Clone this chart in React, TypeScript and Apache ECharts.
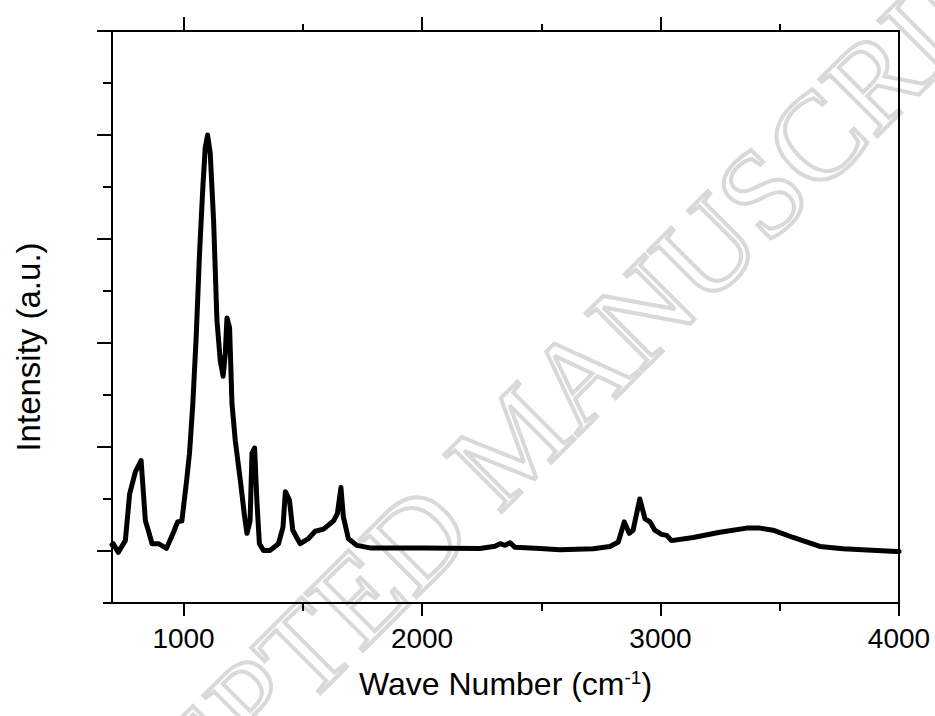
import React, { useEffect, useRef } from "react";
import * as echarts from "echarts";

const wavenumbers = [
  700, 705, 726, 756, 774, 798, 822, 840, 852, 868, 895, 928, 958, 975, 993,
  1014, 1017, 1025, 1039, 1053, 1067, 1081, 1091, 1101, 1112, 1126, 1133, 1140,
  1154, 1166, 1175, 1182, 1193, 1203, 1217, 1238, 1255, 1266, 1279, 1287, 1298,
  1308, 1318, 1335, 1363, 1398, 1417, 1427, 1444, 1458, 1489, 1524, 1552, 1587,
  1629, 1645, 1660, 1670, 1691, 1726, 1782, 1894, 2000, 2243, 2306, 2327, 2348,
  2369, 2390, 2495, 2578, 2718, 2788, 2823, 2848, 2869, 2885, 2913, 2935, 2956,
  2976, 3004, 3026, 3046, 3137, 3249, 3361, 3416, 3472, 3556, 3668, 3765, 3989,
  4000,
];
const intensities = [
  0.06, 0.07, -0.013, 0.1, 0.55, 0.76, 0.87, 0.29, 0.2, 0.07, 0.07, 0.025, 0.18,
  0.28, 0.29, 0.7, 0.77, 0.94, 1.42, 2.06, 2.86, 3.5, 3.88, 4.0, 3.82, 3.18, 2.7,
  2.22, 1.83, 1.68, 1.9, 2.24, 2.15, 1.42, 1.06, 0.68, 0.35, 0.17, 0.29, 0.94,
  0.99, 0.46, 0.07, 0.006, 0.006, 0.07, 0.23, 0.57, 0.49, 0.2, 0.07, 0.12, 0.19,
  0.21, 0.29, 0.36, 0.61, 0.33, 0.12, 0.054, 0.03, 0.03, 0.03, 0.025, 0.045,
  0.07, 0.055, 0.08, 0.035, 0.025, 0.013, 0.022, 0.044, 0.086, 0.28, 0.17, 0.2,
  0.5, 0.31, 0.28, 0.2, 0.16, 0.15, 0.1, 0.13, 0.18, 0.22, 0.22, 0.2, 0.13, 0.044,
  0.022, -0.004, -0.004,
];

const xMajorTicks = [1000, 2000, 3000, 4000];
const xTopMajorTicks = [1000, 2000, 3000];
const xMinorTicks = [1500, 2500, 3500];
const yMajorTicks = [0, 1, 2, 3, 4, 5];
const yMinorTicks = [-0.5, 0.5, 1.5, 2.5, 3.5, 4.5];

const FONT = "'Liberation Sans', Arial, sans-serif";

export default function App() {
  const ref = useRef<HTMLDivElement>(null);
  useEffect(() => {
    if (!ref.current) return;
    const chart = echarts.init(ref.current, undefined, { renderer: "svg" });
    const data = wavenumbers.map((w, i) => [w, intensities[i]]);
    const lineStyle = { color: "#000", width: 2 };
    const baseX = {
      type: "value" as const,
      min: 700,
      max: 4000,
      splitLine: { show: false },
      axisLabel: { show: false },
    };
    const baseY = {
      type: "value" as const,
      min: -0.5,
      max: 5,
      splitLine: { show: false },
      axisLabel: { show: false },
    };
    chart.setOption({
      animation: false,
      backgroundColor: "#fff",
      grid: { left: 112, right: 36, top: 31, bottom: 113 },
      xAxis: [
        {
          ...baseX,
          position: "bottom",
          axisLine: { show: true, onZero: false, lineStyle },
          axisTick: {
            show: true,
            customValues: xMajorTicks,
            length: 13,
            lineStyle,
          },
          axisLabel: {
            show: true,
            customValues: xMajorTicks,
            formatter: (v: number) => String(v),
            fontSize: 28,
            fontFamily: FONT,
            color: "#000",
            margin: 21,
          },
          name: "{a|Wave Number (cm}{s|-1}{a|)}",
          nameLocation: "middle",
          nameGap: 65,
          nameTextStyle: {
            rich: {
              a: { fontSize: 32, fontFamily: FONT, color: "#000", verticalAlign: "bottom" },
              s: { fontSize: 19, fontFamily: FONT, color: "#000", verticalAlign: "top" },
            },
          },
        },
        {
          ...baseX,
          position: "bottom",
          axisLine: { show: false, onZero: false },
          axisTick: { show: true, customValues: xMinorTicks, length: 8, lineStyle },
        },
        {
          ...baseX,
          position: "top",
          axisLine: { show: true, onZero: false, lineStyle },
          axisTick: { show: true, customValues: xTopMajorTicks, length: 14, lineStyle },
        },
        {
          ...baseX,
          position: "top",
          axisLine: { show: false, onZero: false },
          axisTick: { show: true, customValues: xMinorTicks, length: 7, lineStyle },
        },
      ],
      yAxis: [
        {
          ...baseY,
          position: "left",
          axisLine: { show: true, onZero: false, lineStyle },
          axisTick: { show: true, customValues: yMinorTicks, length: 9, lineStyle },
          name: "Intensity (a.u.)",
          nameLocation: "middle",
          nameGap: 67,
          nameTextStyle: {
            fontSize: 33,
            fontFamily: FONT,
            color: "#000",
            padding: [0, 60, 0, 0],
          },
        },
        {
          ...baseY,
          position: "left",
          axisLine: { show: false, onZero: false },
          axisTick: { show: true, customValues: yMajorTicks, length: 15, lineStyle },
        },
        {
          ...baseY,
          position: "right",
          axisLine: { show: true, onZero: false, lineStyle },
          axisTick: { show: false },
        },
      ],
      graphic: [
        {
          type: "text",
          x: 515,
          y: 440,
          rotation: Math.PI / 4,
          z: -10,
          silent: true,
          style: {
            text: "ACCEPTED MANUSCRIPT",
            font: "124px 'Liberation Serif', 'DejaVu Serif', serif",
            fill: "rgba(255,255,255,0)",
            stroke: "#d9d9d9",
            lineWidth: 4,
            textAlign: "center",
            textVerticalAlign: "middle",
          },
        },
      ],
      series: [
        {
          type: "line",
          data,
          xAxisIndex: 0,
          yAxisIndex: 0,
          showSymbol: false,
          symbol: "none",
          smooth: false,
          lineStyle: { color: "#000", width: 5, join: "round", cap: "round" },
          z: 5,
        },
      ],
    });
    return () => chart.dispose();
  }, []);
  return (
    <div
      ref={ref}
      style={{ position: "absolute", left: 0, top: 0, width: 935, height: 716 }}
    />
  );
}
